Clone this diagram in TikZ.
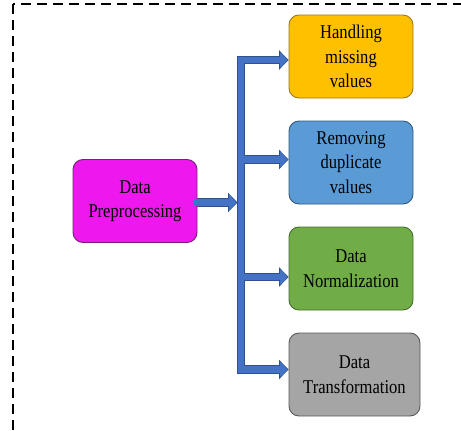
\documentclass[tikz,border=0pt]{standalone}
\usepackage{fontspec}
\setmainfont[FakeStretch=0.85]{Liberation Serif}
\usetikzlibrary{arrows.meta}
\definecolor{magfill}{RGB}{238,24,238}
\definecolor{magline}{RGB}{120,30,120}
\definecolor{orfill}{RGB}{255,192,0}
\definecolor{orline}{RGB}{160,120,20}
\definecolor{blfill}{RGB}{91,155,213}
\definecolor{blline}{RGB}{50,90,130}
\definecolor{grfill}{RGB}{112,173,71}
\definecolor{grline}{RGB}{70,110,45}
\definecolor{gyfill}{RGB}{165,165,165}
\definecolor{gyline}{RGB}{90,90,90}
\definecolor{flowblue}{RGB}{68,114,196}
\definecolor{flowedge}{RGB}{47,82,143}
\begin{document}
\begin{tikzpicture}[x=1pt,y=-1pt,
  procbox/.style={draw, rounded corners=10pt, line width=0.9pt, align=center,
    font=\fontsize{19.5}{24.5}\selectfont, inner sep=0pt,
    minimum width=124pt, minimum height=83pt},
  flowout/.style={draw=flowedge, line width=8.5pt, line join=miter,
    -{Triangle[width=19pt,length=9.5pt]}},
  flowin/.style={draw=flowblue, line width=6.5pt, line join=miter,
    -{Triangle[width=15.5pt,length=7.5pt]}},
  flowouttwo/.style={draw=flowedge, line width=8.5pt, line join=miter,
    {Triangle[width=19pt,length=9.5pt]}-{Triangle[width=19pt,length=9.5pt]}},
  flowintwo/.style={draw=flowblue, line width=6.5pt, line join=miter,
    {Triangle[width=15.5pt,length=7.5pt]}-{Triangle[width=15.5pt,length=7.5pt]}},
  frame/.style={draw=black, line width=1.8pt, dash pattern=on 10pt off 6pt}]
\useasboundingbox (0,0) rectangle (461,431);
\begin{scope}
  \clip (0,0) rectangle (461,431);
  \draw[frame] (13,4) rectangle (480,450);
\end{scope}
\node[procbox, fill=magfill, draw=magline] (dp) at (135,201) {Data\\Preprocessing};
\node[procbox, fill=orfill, draw=orline] (h1) at (351,56.5) {Handling\\missing\\values};
\node[procbox, fill=blfill, draw=blline] (h2) at (351,162.5) {Removing\\duplicate\\values};
\node[procbox, fill=grfill, draw=grline] (h3) at (351,268.5) {Data\\Normalization};
\node[procbox, fill=gyfill, draw=gyline, minimum width=131pt] (h4) at (354.5,374.5) {Data\\Transformation};
\coordinate (jin) at (237.5,202.5);
\coordinate (bustop) at (241,60);
\coordinate (busbot) at (241,369.5);
\coordinate (j2) at (241,159.5);
\coordinate (j3) at (241,277);
% outlines
\draw[flowout] (dp.east |- jin) -- (jin);
\draw[flowouttwo] (bustop -| h1.west) -- (bustop) -- (busbot) -- (busbot -| h4.west);
\draw[flowout] (j2) -- (j2 -| h2.west);
\draw[flowout] (j3) -- (j3 -| h3.west);
% fills
\draw[flowin] ([xshift=-3pt]dp.east |- jin) -- ([xshift=-1pt]jin);
\draw[flowintwo] ([xshift=-1pt]bustop -| h1.west) -- (bustop) -- (busbot) -- ([xshift=-1pt]busbot -| h4.west);
\draw[flowin] (j2) -- ([xshift=-1pt]j2 -| h2.west);
\draw[flowin] (j3) -- ([xshift=-1pt]j3 -| h3.west);
\end{tikzpicture}
\end{document}
